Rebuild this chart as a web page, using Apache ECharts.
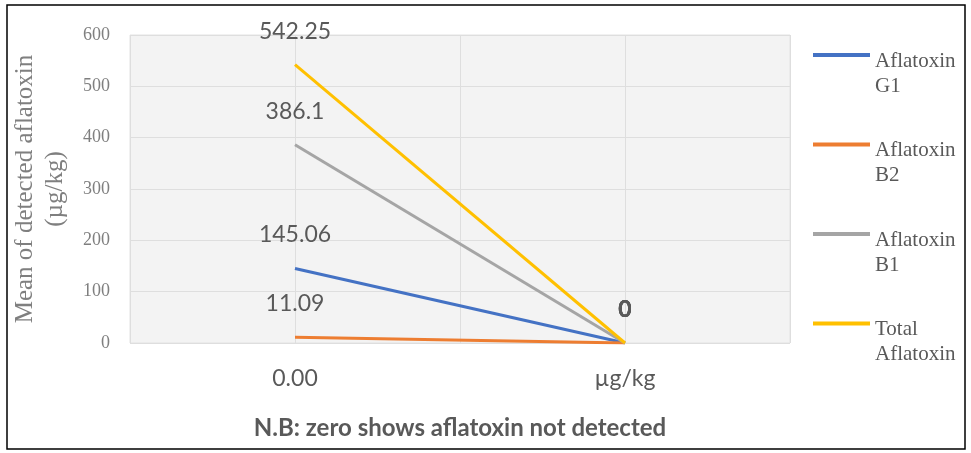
<!DOCTYPE html>
<html>
<head>
<meta charset="utf-8">
<script src="https://cdn.jsdelivr.net/npm/echarts@6/dist/echarts.min.js"></script>
<style>
  html, body { margin: 0; padding: 0; background: #ffffff; }
  #chart { width: 971px; height: 453px; }
</style>
</head>
<body>
<div id="chart"></div>
<script>
// Category labels along the bottom axis
const categories = ['0.00', 'µg/kg'];

// Mean detected aflatoxin per type (µg/kg)
const aflatoxinG1 = [145.06, 0];
const aflatoxinB2 = [11.09, 0];
const aflatoxinB1 = [386.1, 0];
const totalAflatoxin = [542.25, 0];

const seriesNames = ['Aflatoxin G1', 'Aflatoxin B2', 'Aflatoxin B1', 'Total Aflatoxin'];
const legendLines = [['Aflatoxin', 'G1'], ['Aflatoxin', 'B2'], ['Aflatoxin', 'B1'], ['Total', 'Aflatoxin']];
const seriesColors = ['#4472C4', '#ED7D31', '#A5A5A5', '#FFC000'];
const seriesData = [aflatoxinG1, aflatoxinB2, aflatoxinB1, totalAflatoxin];

const yTicks = { min: 0, max: 600, interval: 100 };

const sans = 'Lato, "Open Sans", sans-serif';
const serif = '"Liberation Serif", "DejaVu Serif", serif';

const chart = echarts.init(document.getElementById('chart'), null, { renderer: 'canvas' });

const series = seriesData.map((d, i) => ({
  name: seriesNames[i],
  type: 'line',
  xAxisIndex: 0,
  // zero readings share one spot, so their label is drawn heavier
  data: d.map(v => (v === 0 ? { value: v, label: { fontWeight: 'bold' } } : v)),
  symbol: 'circle',
  symbolSize: 2,
  showSymbol: true,
  lineStyle: { color: seriesColors[i], width: 3 },
  itemStyle: { color: 'rgba(0,0,0,0)', borderWidth: 0 },
  label: {
    show: true,
    position: 'top',
    distance: 21,
    color: '#595959',
    fontFamily: sans,
    fontSize: 23,
    formatter: p => String(p.value)
  },
  emphasis: { disabled: true },
  z: 3 + i
}));

chart.setOption({
  animation: false,
  backgroundColor: '#ffffff',
  grid: {
    left: 130, right: 181, top: 35, bottom: 110,
    outerBoundsMode: 'none',
    show: true,
    backgroundColor: '#f3f3f3',
    borderColor: '#e2e2e2',
    borderWidth: 1
  },
  legend: {
    orient: 'vertical',
    left: 808,
    top: 20,
    itemGap: 18,
    itemWidth: 57,
    itemHeight: 4,
    icon: 'rect',
    data: seriesNames.map((n, i) => ({ name: n, itemStyle: { color: seriesColors[i] } })),
    formatter: name => {
      const lines = legendLines[seriesNames.indexOf(name)];
      return '{s| }\n{t|' + lines[0] + '}\n{t|' + lines[1] + '}';
    },
    textStyle: {
      fontFamily: serif,
      fontSize: 21,
      color: '#595959',
      rich: {
        s: { fontSize: 10, lineHeight: 37, fontFamily: serif },
        t: { fontSize: 21, lineHeight: 25, color: '#595959', fontFamily: serif }
      }
    }
  },
  xAxis: [
    {
      type: 'category',
      data: categories,
      boundaryGap: true,
      axisLine: { show: false },
      axisTick: { show: false },
      splitLine: { show: false },
      axisLabel: {
        color: '#595959',
        fontFamily: sans,
        fontSize: 23,
        margin: 24
      },
      name: 'N.B: zero shows aflatoxin not detected',
      nameLocation: 'middle',
      nameGap: 73,
      nameTextStyle: {
        color: '#595959',
        fontFamily: sans,
        fontSize: 24,
        fontWeight: 'bold'
      }
    },
    {
      // vertical gridlines at category boundaries and centres
      type: 'value',
      min: 0,
      max: 4,
      interval: 1,
      show: true,
      axisLine: { show: false },
      axisTick: { show: false },
      axisLabel: { show: false },
      splitLine: { show: true, lineStyle: { color: '#dedede', width: 1 } }
    }
  ],
  yAxis: {
    type: 'value',
    min: yTicks.min,
    max: yTicks.max,
    interval: yTicks.interval,
    axisLine: { show: false },
    axisTick: { show: false },
    axisLabel: {
      color: '#7f7f7f',
      fontFamily: serif,
      fontSize: 18,
      margin: 20
    },
    splitLine: { show: true, lineStyle: { color: '#dedede', width: 1 } },
    name: 'Mean of detected aflatoxin\n(µg/kg)',
    nameLocation: 'middle',
    nameRotate: 90,
    nameGap: 60,
    nameTextStyle: {
      color: '#7f7f7f',
      fontFamily: serif,
      fontSize: 25,
      lineHeight: 30
    }
  },
  graphic: [
    {
      type: 'rect',
      shape: { x: 7, y: 5, width: 958, height: 444 },
      style: { fill: 'none', stroke: '#000000', lineWidth: 1.5 },
      silent: true,
      z: 100
    }
  ],
  series: series
});
</script>
</body>
</html>
